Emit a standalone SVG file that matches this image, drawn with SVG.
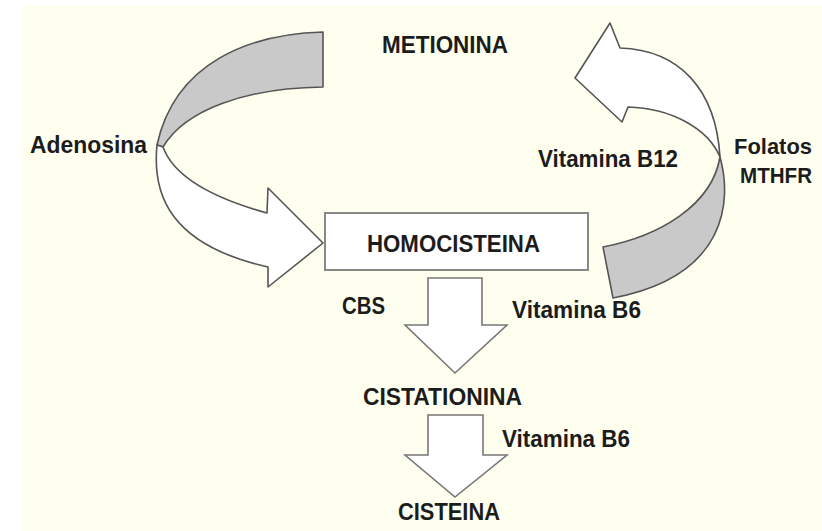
<svg xmlns="http://www.w3.org/2000/svg" width="822" height="531" viewBox="0 0 822 531">
<style>
.t{font-family:"Liberation Sans Narrow","Liberation Sans",Arial,sans-serif;font-weight:bold;fill:#1c1c1c;font-size:24px}
.s{font-size:22px}
.ribbon{stroke:#555;stroke-width:1.6;stroke-linejoin:round}
.back{fill:#c9c9c9}
.front{fill:#ffffff}
.down{fill:#ffffff;stroke:#777;stroke-width:1.6;stroke-linejoin:miter}
</style>
<rect x="0" y="0" width="822" height="531" fill="#ffffff"/>
<rect x="22" y="5" width="800" height="526" fill="#fffff0"/>

<g id="connectors">
  <g id="arrow-adenosina">
    <path class="ribbon back" d="M323,32 C250,34 175,62 157,145 L163,147 C185,110 245,88 323,87 Z"/>
    <path class="ribbon front" d="M157,145 C152,195 170,245 268,267 L268,287 L323,243 L268,188 L267,213 C220,200 175,180 163,147 Z"/>
  </g>
  <g id="arrow-folatos">
    <path class="ribbon back" d="M720,157 C732,200 728,276 613,298 L603,247 C660,236 712,205 720,157 Z"/>
    <path class="ribbon front" d="M720,157 C716,90 680,50 620,48 L610,23 L575,78 L622,122 L628,107 C670,108 708,128 720,157 Z"/>
  </g>
  <path id="arrow-cbs" class="down" d="M428,278 L482,278 L482,325 L507,325 L455,373 L405,325 L428,325 Z"/>
  <path id="arrow-b6" class="down" d="M428,415 L483,415 L483,455 L507,455 L455,497 L405,455 L428,455 Z"/>
</g>

<g id="metionina"><text class="t" x="382" y="53" textLength="126" lengthAdjust="spacingAndGlyphs">METIONINA</text></g>
<g id="homocisteina">
  <rect x="325" y="213" width="263" height="57" fill="#ffffff" stroke="#888" stroke-width="2"/>
  <text class="t" x="367" y="252" textLength="173" lengthAdjust="spacingAndGlyphs">HOMOCISTEINA</text>
</g>
<g id="cistationina"><text class="t" x="363" y="405" textLength="159" lengthAdjust="spacingAndGlyphs">CISTATIONINA</text></g>
<g id="cisteina"><text class="t" x="398" y="520" textLength="102" lengthAdjust="spacingAndGlyphs">CISTEINA</text></g>

<g id="labels">
  <text class="t" x="30" y="153" textLength="117" lengthAdjust="spacingAndGlyphs">Adenosina</text>
  <text class="t" x="538" y="167" textLength="140" lengthAdjust="spacingAndGlyphs">Vitamina B12</text>
  <text class="t s" x="734" y="154" textLength="78" lengthAdjust="spacingAndGlyphs">Folatos</text>
  <text class="t s" x="740" y="183" textLength="72" lengthAdjust="spacingAndGlyphs">MTHFR</text>
  <text class="t" x="342" y="314" textLength="43" lengthAdjust="spacingAndGlyphs">CBS</text>
  <text class="t" x="512" y="318" textLength="129" lengthAdjust="spacingAndGlyphs">Vitamina B6</text>
  <text class="t" x="502" y="447" textLength="128" lengthAdjust="spacingAndGlyphs">Vitamina B6</text>
</g>
</svg>
